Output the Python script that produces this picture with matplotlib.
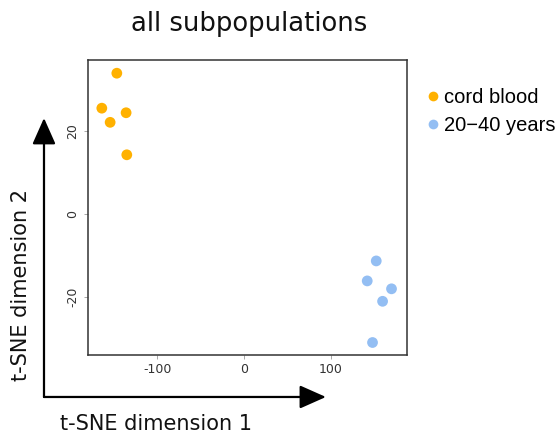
import numpy as np
import matplotlib.pyplot as plt
from matplotlib.lines import Line2D
from matplotlib.patches import FancyArrowPatch

# t-SNE coordinates per group
cord_x = [-146.5, -163.8, -154.2, -135.8, -135.0]
cord_y = [33.8, 25.4, 22.0, 24.3, 14.2]
adult_x = [152.6, 142.2, 170.2, 159.9, 148.3]
adult_y = [-11.3, -16.1, -18.0, -21.0, -30.9]

groups = ['cord blood', '20\u221240 years']
colors = ['#FFB100', '#93BEF3']

xticks = [-100, 0, 100]
yticks = [-20, 0, 20]

fig = plt.figure(figsize=(5.59, 4.34), dpi=100)
ax = fig.add_axes([0.157, 0.183, 0.571, 0.679])

ax.scatter(cord_x, cord_y, s=60, color=colors[0], edgecolors='none', zorder=3)
ax.scatter(adult_x, adult_y, s=60, color=colors[1], edgecolors='none', zorder=3)

ax.set_xlim(-180, 188)
ax.set_ylim(-33.8, 37)
ax.set_xticks(xticks)
ax.set_yticks(yticks)
ax.set_xticklabels([str(t) for t in xticks])
ax.set_yticklabels([str(t) for t in yticks], rotation=90, va='center')
ax.tick_params(length=3, width=0.6, color='#999999', labelsize=9,
               labelcolor='#333333', pad=3)
for sp in ax.spines.values():
    sp.set_linewidth(1.1)
    sp.set_color('#333333')

fig.text(0.446, 0.944, 'all subpopulations', ha='center', va='center',
         fontsize=18.6, color='#111111')

# arrow-style axis labels
arrow = dict(arrowstyle='-|>,head_length=1.35,head_width=0.6', color='black',
             lw=1.6, shrinkA=0, shrinkB=0)
fig.add_artist(FancyArrowPatch((0.0787, 0.0853), (0.0787, 0.728),
                               transform=fig.transFigure,
                               mutation_scale=12, **arrow))
fig.add_artist(FancyArrowPatch((0.0787, 0.0853), (0.583, 0.0853),
                               transform=fig.transFigure,
                               mutation_scale=12, **arrow))
fig.text(0.037, 0.343, 't-SNE dimension 2', rotation=90, ha='center',
         va='center', fontsize=15, color='#111111')
fig.text(0.279, 0.024, 't-SNE dimension 1', ha='center', va='center',
         fontsize=15, color='#111111')

handles = [Line2D([], [], marker='o', linestyle='none', markersize=7,
                  markerfacecolor=c, markeredgecolor='none') for c in colors]
ax.legend(handles, groups, loc='upper left', bbox_to_anchor=(0.749, 0.815),
          bbox_transform=fig.transFigure, frameon=False,
          prop={'family': 'Liberation Sans', 'size': 14.5},
          handlelength=0.6, handletextpad=0.25, labelspacing=0.45,
          borderpad=0.4, borderaxespad=0)

fig.savefig('out.png', dpi=100)
